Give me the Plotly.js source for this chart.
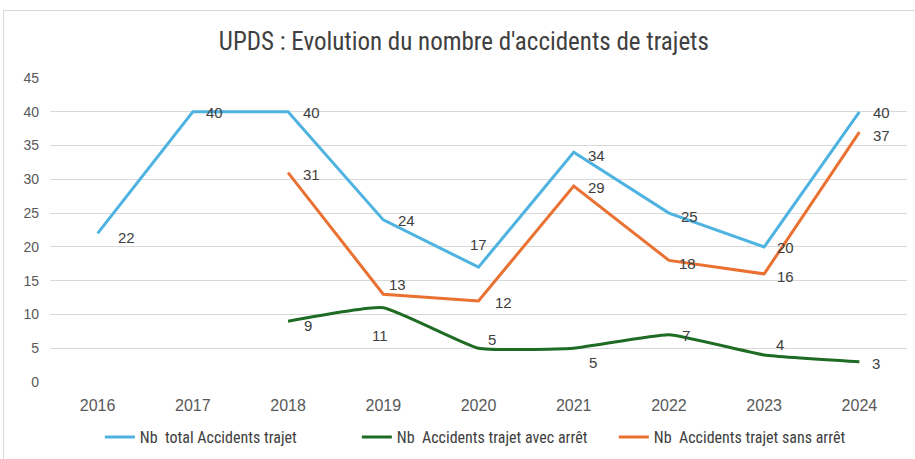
<!DOCTYPE html>
<html>
<head>
<meta charset="utf-8">
<script src="https://cdn.plot.ly/plotly-3.0.1.min.js"></script>
<style>
  html, body { margin: 0; padding: 0; background: #fff; }
  #chart { position: absolute; left: 0; top: 0; width: 915px; height: 459px; }
  #frame { position: absolute; left: 3px; top: 10px; width: 915px; height: 460px;
           border-left: 1px solid #d9d9d9; border-top: 1px solid #d9d9d9; pointer-events: none; }
</style>
</head>
<body>
<div id="chart"></div>
<div id="frame"></div>
<script>
const years = ['2016', '2017', '2018', '2019', '2020', '2021', '2022', '2023', '2024'];
const totalAccidents = [22, 40, 40, 24, 17, 34, 25, 20, 40];
const avecArret = [null, null, 9, 11, 5, 5, 7, 4, 3];
const sansArret = [null, null, 31, 13, 12, 29, 18, 16, 37];
const seriesNames = ['Nb  total Accidents trajet', 'Nb  Accidents trajet avec arrêt', 'Nb  Accidents trajet sans arrêt'];
const seriesColors = ['#4EB3E0', '#1E6B24', '#E97132'];

// label offsets in pixels [dx, dy(down)] — styling only
const totalOff = [[29, 4], [22, 1], [23, 1], [23, 1], [0, -23], [23, 3], [21, 3], [21, 1], [22, 1]];
const avecOff  = [[0, 0], [0, 0], [20, 4], [-3, 28], [13, -9], [19, 14], [17, 1], [16, -10], [17, 2]];
const sansOff  = [[0, 0], [0, 0], [23, 2], [14, -10], [25, 2], [23, 1], [19, 3], [21, 3], [22, 3]];

const labelFont = { family: 'Liberation Sans, Arial, sans-serif', size: 15, color: '#404040' };
const narrow = 'Liberation Sans Narrow, Roboto Condensed, DejaVu Sans Condensed, Liberation Sans, sans-serif';

function makeLabels(values, offsets) {
  const out = [];
  values.forEach((v, i) => {
    if (v === null) return;
    out.push({
      x: i, y: v, xref: 'x', yref: 'y', text: String(v), showarrow: false,
      xanchor: 'center', yanchor: 'middle',
      xshift: offsets[i][0], yshift: -offsets[i][1], font: labelFont
    });
  });
  return out;
}

const traces = [
  { x: years, y: totalAccidents, name: seriesNames[0], type: 'scatter', mode: 'lines',
    line: { color: seriesColors[0], width: 3 } },
  { x: years, y: avecArret, name: seriesNames[1], type: 'scatter', mode: 'lines',
    line: { color: seriesColors[1], width: 3, shape: 'spline', smoothing: 0.4 } },
  { x: years, y: sansArret, name: seriesNames[2], type: 'scatter', mode: 'lines',
    line: { color: seriesColors[2], width: 3 } }
];

const annotations = []
  .concat(makeLabels(totalAccidents, totalOff))
  .concat(makeLabels(avecArret, avecOff))
  .concat(makeLabels(sansArret, sansOff));

const layout = {
  width: 915, height: 459,
  margin: { l: 50, r: 8, t: 78, b: 77, autoexpand: false },
  paper_bgcolor: '#ffffff', plot_bgcolor: '#ffffff',
  title: {
    text: "UPDS : Evolution du nombre d'accidents de trajets",
    font: { family: narrow, size: 25, color: '#404040' },
    x: 0.507, xanchor: 'center', y: 0.911, yanchor: 'middle'
  },
  xaxis: {
    type: 'category', range: [-0.5, 8.5], showgrid: false, zeroline: false,
    showline: false, ticks: '', ticklabelstandoff: 12,
    tickfont: { family: 'Liberation Sans, Arial, sans-serif', size: 16, color: '#595959' }
  },
  yaxis: {
    range: [0, 45], dtick: 5, tick0: 0, showgrid: true, gridcolor: '#d9d9d9', gridwidth: 1,
    zeroline: false, showline: false, ticks: '', ticklabelstandoff: 10,
    tickfont: { family: 'Liberation Sans, Arial, sans-serif', size: 14, color: '#595959' }
  },
  annotations: annotations,
  showlegend: true,
  legend: {
    orientation: 'h', x: 0.508, xanchor: 'center', y: -0.181, yanchor: 'middle',
    font: { family: narrow, size: 16, color: '#404040' },
    entrywidth: 212, entrywidthmode: 'pixels', tracegroupgap: 0
  }
};

Plotly.newPlot('chart', traces, layout, { displayModeBar: false, staticPlot: true });
</script>
</body>
</html>
